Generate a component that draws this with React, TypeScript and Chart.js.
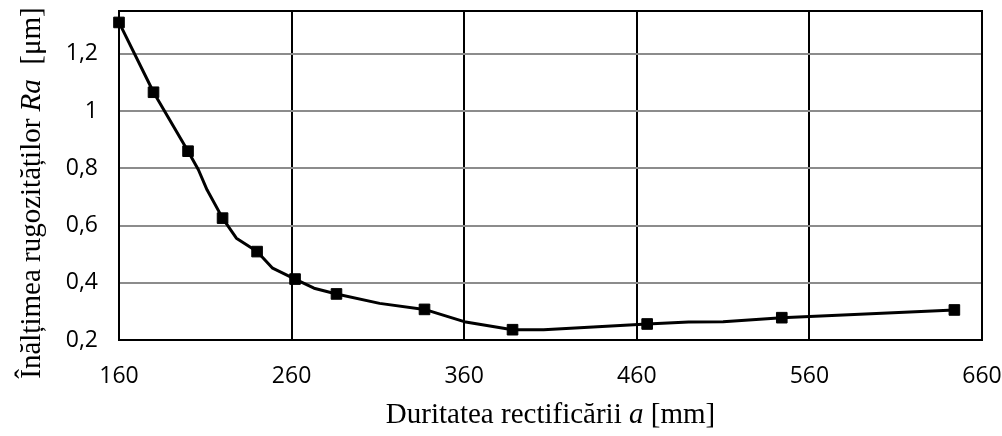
import React, { useEffect, useRef } from "react";
import { Chart, registerables } from "chart.js";

Chart.register(...registerables);

// Duration of grinding a [mm] (line vertices; markers only where MARKED is true)
const X_VALUES = [160, 180, 200, 206, 211, 220, 228, 240, 249, 262, 273, 286, 311, 337, 360, 388, 406, 466, 490, 510, 544, 644];
// Roughness Ra [µm]
const RA_VALUES = [1.31, 1.066, 0.86, 0.795, 0.725, 0.626, 0.556, 0.509, 0.451, 0.413, 0.381, 0.361, 0.328, 0.307, 0.264, 0.236, 0.236, 0.256, 0.263, 0.264, 0.278, 0.305];
const MARKED = [true, true, true, false, false, true, false, true, false, true, false, true, false, true, false, true, false, true, false, false, true, true];

const X_TICKS = [160, 260, 360, 460, 560, 660];
const Y_TICKS = [0.2, 0.4, 0.6, 0.8, 1, 1.2];
const X_MIN = 160;
const X_MAX = 660;
const Y_MIN = 0.2;
const Y_MAX = 1.35;

const X_TITLE = [
  { t: "Duritatea rectificării ", i: false },
  { t: "a", i: true },
  { t: " [mm]", i: false },
];
const Y_TITLE = [
  { t: "Înălțimea rugozităților ", i: false },
  { t: "Ra", i: true },
  { t: "  [μm]", i: false },
];

const SERIF = '"Liberation Serif", "DejaVu Serif", serif';
const TICK_FONT = { family: '"Open Sans", "Liberation Sans", sans-serif', size: 23 };

function drawRich(ctx: CanvasRenderingContext2D, parts: { t: string; i: boolean }[], size: number) {
  const fontOf = (i: boolean) => `${i ? "italic " : ""}${size}px ${SERIF}`;
  let total = 0;
  const widths = parts.map((p) => {
    ctx.font = fontOf(p.i);
    const w = ctx.measureText(p.t).width;
    total += w;
    return w;
  });
  let x = -total / 2;
  parts.forEach((p, k) => {
    ctx.font = fontOf(p.i);
    ctx.fillText(p.t, x, 0);
    x += widths[k];
  });
}

const decorPlugin = {
  id: "decor",
  beforeDatasetsDraw(chart: any) {
    const { ctx, chartArea } = chart;
    ctx.save();
    ctx.strokeStyle = "#000";
    ctx.lineWidth = 2;
    ctx.strokeRect(chartArea.left, chartArea.top, chartArea.right - chartArea.left, chartArea.bottom - chartArea.top);
    ctx.restore();
  },
  afterDraw(chart: any) {
    const { ctx, chartArea } = chart;
    ctx.save();
    ctx.fillStyle = "#000";
    ctx.textAlign = "left";
    ctx.textBaseline = "alphabetic";
    // x title
    ctx.save();
    ctx.translate((chartArea.left + chartArea.right) / 2, 423);
    drawRich(ctx, X_TITLE, 29);
    ctx.restore();
    // y title
    ctx.save();
    ctx.translate(40, 193);
    ctx.rotate(-Math.PI / 2);
    drawRich(ctx, Y_TITLE, 29);
    ctx.restore();
    ctx.restore();
  },
};

export default function App() {
  const ref = useRef<HTMLCanvasElement | null>(null);

  useEffect(() => {
    if (!ref.current) return;
    const data = X_VALUES.map((x, k) => ({ x, y: RA_VALUES[k] }));
    const chart = new Chart(ref.current, {
      type: "line",
      data: {
        datasets: [
          {
            data,
            borderColor: "#000",
            backgroundColor: "#000",
            borderWidth: 3,
            borderJoinStyle: "round",
            tension: 0,
            pointStyle: "rect",
            pointRadius: MARKED.map((m) => (m ? 7.5 : 0)),
            pointHoverRadius: MARKED.map((m) => (m ? 7.5 : 0)),
            pointBorderWidth: 1,
            pointBackgroundColor: "#000",
            pointBorderColor: "#000",
            clip: false,
          } as any,
        ],
      },
      options: {
        responsive: false,
        animation: false,
        events: [],
        layout: { padding: { top: 11, right: 20, left: 0, bottom: 0 } },
        plugins: { legend: { display: false }, tooltip: { enabled: false } },
        scales: {
          x: {
            type: "linear",
            min: X_MIN,
            max: X_MAX,
            afterBuildTicks: (s: any) => {
              s.ticks = X_TICKS.map((v) => ({ value: v }));
            },
            afterFit: (s: any) => {
              s.height = 96;
              s.paddingLeft = 0;
              s.paddingRight = 0;
              s.paddingTop = 0;
              s.paddingBottom = 0;
            },
            border: { display: false },
            grid: {
              drawTicks: false,
              lineWidth: 2,
              color: (c: any) => (c.tick && c.tick.value > X_MIN && c.tick.value < X_MAX ? "#000" : "rgba(0,0,0,0)"),
            },
            ticks: {
              color: "#000",
              font: TICK_FONT,
              padding: 23,
              maxRotation: 0,
              autoSkip: false,
              callback: (v: any) => String(v),
            },
          },
          y: {
            type: "linear",
            min: Y_MIN,
            max: Y_MAX,
            afterBuildTicks: (s: any) => {
              s.ticks = Y_TICKS.map((v) => ({ value: v }));
            },
            afterFit: (s: any) => {
              s.width = 119;
              s.paddingLeft = 0;
              s.paddingRight = 0;
              s.paddingTop = 0;
              s.paddingBottom = 0;
            },
            border: { display: false },
            grid: {
              drawTicks: false,
              lineWidth: 2,
              color: (c: any) => (c.tick && c.tick.value > Y_MIN + 1e-9 ? "#8c8c8c" : "rgba(0,0,0,0)"),
            },
            ticks: {
              color: "#000",
              font: TICK_FONT,
              padding: 21,
              autoSkip: false,
              callback: (v: any) => String(v).replace(".", ","),
            },
          },
        },
      },
      plugins: [decorPlugin],
    });
    return () => chart.destroy();
  }, []);

  return (
    <div style={{ position: "absolute", left: 0, top: 0, width: 1002, height: 436, background: "#fff" }}>
      <canvas ref={ref} width={1002} height={436} style={{ display: "block" }} />
    </div>
  );
}
